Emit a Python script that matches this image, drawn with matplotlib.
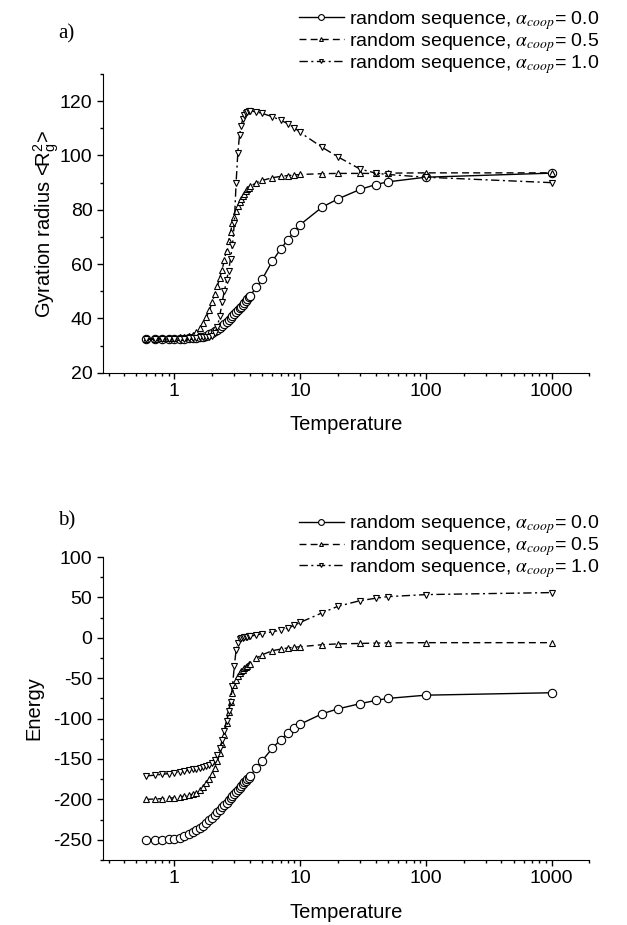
import numpy as np
import matplotlib.pyplot as plt
from matplotlib.ticker import MultipleLocator, LogLocator, NullFormatter, FixedLocator, FixedFormatter

plt.rcParams['font.family'] = ['Liberation Sans', 'DejaVu Sans']
plt.rcParams['mathtext.fontset'] = 'stix'
plt.rcParams['axes.unicode_minus'] = False

# temperatures (same for all series)
temps = [0.6, 0.7, 0.8, 0.9, 1.0, 1.1, 1.2, 1.3, 1.4, 1.5, 1.6, 1.7, 1.8, 1.9,
         2.0, 2.1, 2.2, 2.3, 2.4, 2.5, 2.6, 2.7, 2.8, 2.9, 3.0, 3.1, 3.2, 3.3,
         3.4, 3.5, 3.6, 3.7, 3.8, 3.9, 4.0, 4.5, 5, 6, 7, 8, 9, 10, 15, 20,
         30, 40, 50, 100, 1000]

# gyration radius <Rg^2>
rg_a00 = [32.3, 32.3, 32.3, 32.4, 32.4, 32.5, 32.6, 32.7, 32.8, 32.9, 33.0, 33.3,
          33.7, 34.1, 34.6, 35.2, 35.9, 36.6, 37.3, 38.0, 38.7, 39.4, 40.1, 40.9,
          41.6, 42.3, 43.0, 43.7, 44.4, 45.1, 45.8, 46.5, 47.1, 47.8, 48.4, 51.5,
          54.5, 61, 65.5, 69, 72, 74.5, 81, 84, 87.5, 89.3, 90.3, 92, 93.5]
rg_a05 = [32.5, 32.6, 32.7, 32.8, 32.9, 33.0, 33.2, 33.5, 34.0, 35.0, 36.5, 38.5,
          40.5, 43, 46, 49, 52, 55, 58, 61.5, 65, 68.5, 72, 75, 77.5, 79.5, 81.3,
          82.8, 84, 85, 86, 86.8, 87.5, 88.1, 88.6, 90, 90.8, 91.8, 92.3, 92.6,
          92.8, 93, 93.3, 93.4, 93.4, 93.4, 93.5, 93.6, 93.6]
rg_a10 = [32.3, 32.3, 32.4, 32.4, 32.5, 32.5, 32.6, 32.7, 32.8, 32.9, 33.0, 33.1,
          33.2, 33.3, 33.5, 34.5, 37, 41, 46, 50, 54, 57.5, 62, 67, 75, 90, 101,
          107.5, 111, 113.3, 114.8, 115.6, 116.1, 116.4, 116.5, 116, 115.5, 114.3,
          113, 111.7, 110.3, 108.5, 103, 99.5, 95, 93.5, 93, 92, 90]

# energy
en_a00 = [-250, -250, -250, -249.5, -249, -247.5, -245.5, -243, -240.5, -238,
          -235.5, -232.5, -229.5, -226, -222.5, -219, -216, -213, -210, -207,
          -204, -201, -198, -195.5, -193, -190.5, -188, -185.5, -183, -181, -179,
          -177, -175, -173, -171, -161, -152, -137, -126, -118, -112, -107, -94,
          -88, -81.5, -77.5, -75, -71, -68]
en_a05 = [-200, -199.5, -199, -198.5, -198, -197, -196, -195, -193.5, -192, -189,
          -185, -180, -175, -169, -161, -153, -143, -132, -120, -106, -92, -79,
          -68, -59, -52, -47, -44, -41.5, -39.5, -37.5, -36, -34.5, -33, -32, -25,
          -21, -16, -14, -12.5, -11.8, -11, -8.5, -7.5, -7, -6.5, -6.3, -6, -6]
en_a10 = [-171, -170, -169, -168, -167, -166, -165, -164, -163, -162, -161, -160,
          -159, -157.5, -155, -151, -145, -137, -127, -115, -103, -91, -79, -60,
          -35, -15, -6, -2, -0.5, 0.3, 0.8, 1.2, 1.5, 1.8, 2, 3.5, 5, 7.5, 9.5,
          12, 15.5, 19, 31, 39, 46, 49, 51, 53.5, 56]

labels = [r'random sequence, $\alpha_{coop}$= 0.0',
          r'random sequence, $\alpha_{coop}$= 0.5',
          r'random sequence, $\alpha_{coop}$= 1.0']

styles = [dict(ls='-', marker='o', ms=6.0),
          dict(ls=(0, (5, 3)), marker='^', ms=4.0),
          dict(ls=(0, (6, 2.5, 1.5, 2.5)), marker='v', ms=4.0)]

fig = plt.figure(figsize=(6.27, 9.25), dpi=100)
ax1 = fig.add_axes([0.164, 0.597, 0.776, 0.323])
ax2 = fig.add_axes([0.164, 0.0703, 0.776, 0.3275])


def draw(ax, series):
    for y, lab, st in zip(series, labels, styles):
        ax.plot(temps, y, color='black', lw=1.0, mfc='white', mec='black',
                mew=0.8, label=lab, **st)
    ax.set_xscale('log')
    ax.set_xlim(0.27, 2000)
    ax.xaxis.set_major_locator(FixedLocator([1, 10, 100, 1000]))
    ax.xaxis.set_major_formatter(FixedFormatter(['1', '10', '100', '1000']))
    ax.xaxis.set_minor_locator(LogLocator(base=10, subs=np.arange(2, 10)))
    ax.xaxis.set_minor_formatter(NullFormatter())
    ax.spines['top'].set_visible(False)
    ax.spines['right'].set_visible(False)
    ax.tick_params(which='major', direction='out', length=4.5, width=1,
                   labelsize=14, pad=3)
    ax.tick_params(which='minor', direction='out', length=2.5, width=1)
    ax.set_xlabel('Temperature', fontsize=14.5, labelpad=11)
    ax.legend(loc='upper right', frameon=False, fontsize=14,
              handlelength=2.3, handletextpad=0.3, labelspacing=-0.05,
              borderpad=0, markerscale=0.7)


draw(ax1, [rg_a00, rg_a05, rg_a10])
ax1.set_ylim(20, 130)
ax1.yaxis.set_major_locator(MultipleLocator(20))
ax1.yaxis.set_minor_locator(MultipleLocator(10))
ax1.set_ylabel(r'Gyration radius <R$_\mathregular{g}^\mathregular{2}$>', fontsize=14.5)
ax1.yaxis.set_label_coords(-0.084, 0.5)
ax1.get_legend().set_bbox_to_anchor((0.972, 1.001), transform=fig.transFigure)

draw(ax2, [en_a00, en_a05, en_a10])
ax2.set_ylim(-275, 100)
ax2.yaxis.set_major_locator(MultipleLocator(50))
ax2.yaxis.set_minor_locator(MultipleLocator(25))
ax2.set_ylabel('Energy', fontsize=14.5)
ax2.yaxis.set_label_coords(-0.122, 0.5)
ax2.get_legend().set_bbox_to_anchor((0.972, 0.4557), transform=fig.transFigure)

fig.text(0.093, 0.963, 'a)', family='Liberation Serif', fontsize=15,
         ha='left', va='center')
fig.text(0.093, 0.437, 'b)', family='Liberation Serif', fontsize=15,
         ha='left', va='center')

fig.savefig('out.png', dpi=100)
